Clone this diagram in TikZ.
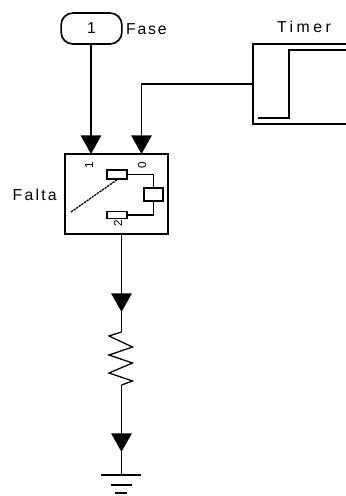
\documentclass[tikz,border=0pt]{standalone}
\usepackage{fontspec}
\setmainfont[LetterSpace=11]{Liberation Sans}
\usetikzlibrary{arrows.meta}

\tikzset{
	wire/.style = {line width = 1.4 pt, black},
	textlabel/.style = {inner sep = 0 pt, font = \fontsize{13.5pt}{14pt}\selectfont},
	portnum/.style = {inner sep = 0 pt, rotate = 90, font = \fontsize{10pt}{10pt}\selectfont},
	contact/.style = {draw, line width = 1.4 pt, fill = white, inner sep = 0 pt}
}

\begin{document}
\begin{tikzpicture}[> = {Triangle[length=16pt, width=17.5pt]}, x = 0.03 cm, y = -0.03 cm]

	% Page
	
	\useasboundingbox (0, 0) rectangle (346, 496);
	
	% Input port
	
	\node [wire, draw, rounded corners = 10 pt, minimum width = 61 * 0.85 pt, minimum height = 31 * 0.85 pt, inner sep = 0 pt, textlabel] (fase) at (91.5, 28.5) {1};
	\node [textlabel, anchor = west] (faselabel) at (126, 29) {Fase};
	
	% Timer block, runs off the page
	
	\coordinate (timertop) at (346, 44);
	\coordinate (timerbottom) at (346, 124);
	\coordinate (timerin) at (253, 84);
	\node [textlabel] (timerlabel) at (304, 27) {\addfontfeature{LetterSpace=22}Timer};
	
	\draw [wire] (timertop) -- (253, 44) -- (253, 124) -- (timerbottom);
	\draw [wire] (258, 118) -- (289, 118) -- (289, 50) -- (346, 50);
	
	% Switch block
	
	\node [wire, draw, minimum width = 103 * 0.85 pt, minimum height = 80 * 0.85 pt, inner sep = 0 pt] (falta) at (116.5, 194) {};
	\node [textlabel, anchor = east] (faltalabel) at (57, 195) {\addfontfeature{LetterSpace=14}Falta};
	
	\node [contact, minimum width = 20 * 0.85 pt, minimum height = 9 * 0.85 pt] (contacta) at (117, 174.5) {};
	\node [contact, minimum width = 20 * 0.85 pt, minimum height = 7 * 0.85 pt] (contactb) at (117, 215) {};
	\node [contact, minimum width = 19 * 0.85 pt, minimum height = 13 * 0.85 pt] (coil) at (153.5, 194.5) {};
	
	\node [portnum] (portone) at (89, 165) {1};
	\node [portnum] (porttwo) at (118, 223) {2};
	\node [portnum] (portzero) at (142, 165) {0};
	
	\draw [wire] (contacta.east) -| (coil.north);
	\draw [wire] (contactb.east) -| (coil.south);
	\draw [wire, line width = 1.1 pt, dash pattern = on 2 pt off 0.7 pt] (71, 212) -- (contacta.south);
	
	% Connections into the switch
	
	\coordinate (tipone) at (91, 154);
	\coordinate (tiptwo) at (141.5, 154);
	
	\draw [wire, ->] (fase.south -| tipone) -- (tipone);
	\draw [wire, ->] (timerin) -- (141.5, 84) -- (tiptwo);
	
	% Resistor
	
	\coordinate (restop) at (121.5, 332);
	\coordinate (resbottom) at (121.5, 385);
	\coordinate (tipthree) at (121.5, 312);
	\coordinate (tipfour) at (121.5, 452);
	
	\draw [wire, ->] (falta.south -| tipthree) -- (tipthree);
	\draw [wire] (tipthree) -- (restop);
	\draw [wire, line width = 1.1 pt] (restop) -- (109, 336) -- (132.5, 347) -- (109, 355) -- (132.5, 363) -- (109, 373) -- (132.5, 381) -- (resbottom);
	
	% Ground
	
	\coordinate (ground) at (121.5, 475);
	
	\draw [wire, ->] (resbottom) -- (tipfour);
	\draw [wire] (tipfour) -- (ground);
	\draw [wire] (101, 475) -- (141, 475);
	\draw [wire] (111, 485) -- (132, 485);
	\draw [wire] (115, 493) -- (127, 493);
	
\end{tikzpicture}
\end{document}
